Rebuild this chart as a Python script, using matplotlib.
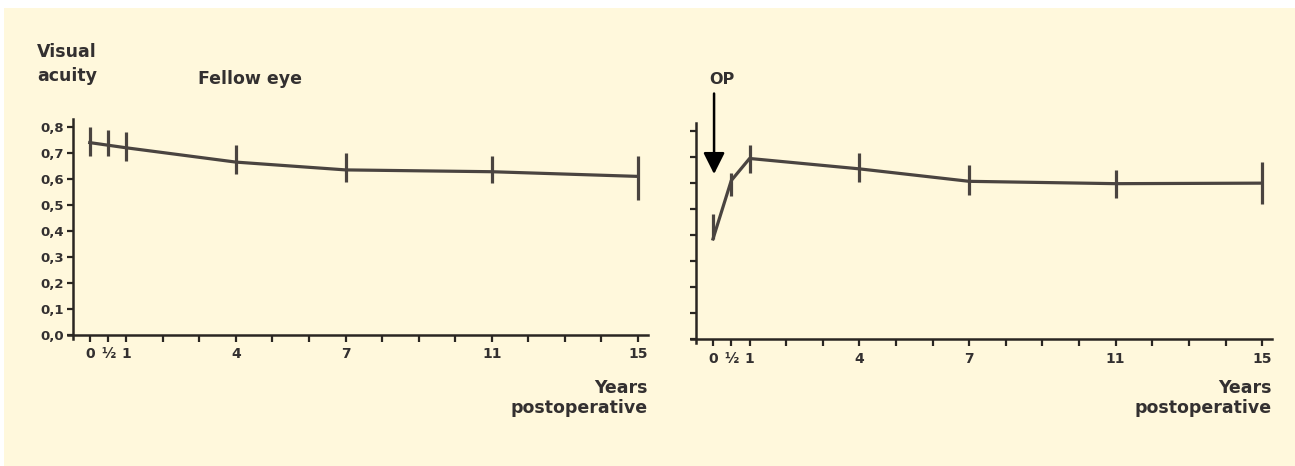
import numpy as np
from matplotlib import pyplot as plt
from matplotlib.patches import Rectangle

# years after surgery
JAHRE = [0, 0.5, 1, 4, 7, 11, 15]
TICKS_X = [0, 0.5, 1, 2, 3, 4, 5, 6, 7, 8, 9, 10, 11, 12, 13, 14, 15]
LABELS_X = ["0", "½", "1", "", "", "4", "", "", "7", "", "", "", "11", "", "", "", "15"]
TICKS_Y = [0.0, 0.1, 0.2, 0.3, 0.4, 0.5, 0.6, 0.7, 0.8]
LABELS_Y = ["0,0", "0,1", "0,2", "0,3", "0,4", "0,5", "0,6", "0,7", "0,8"]

# fellow eye: mean, lower and upper end of the bar
partner_mittel = [0.74, 0.73, 0.72, 0.665, 0.635, 0.628, 0.61]
partner_unten = [0.69, 0.69, 0.67, 0.62, 0.59, 0.585, 0.52]
partner_oben = [0.80, 0.79, 0.78, 0.73, 0.70, 0.69, 0.69]

# operated eye
op_mittel = [0.385, 0.61, 0.695, 0.655, 0.607, 0.598, 0.60]
op_unten = [0.385, 0.55, 0.64, 0.605, 0.556, 0.544, 0.52]
op_oben = [0.48, 0.64, 0.745, 0.715, 0.668, 0.651, 0.68]

CREME = "#fff8dc"
LINIE = "#4a4440"
SCHWARZ = "#2a2622"
TEXT = "#333030"
W, H = 1295, 466


def achse_einrichten(ax, mit_labels):
    ax.set_facecolor("none")
    ax.set_xlim(-0.6, 15.27)
    ax.set_ylim(-0.015, 0.83)
    for s in ["top", "right"]:
        ax.spines[s].set_visible(False)
    ax.spines["left"].set_position(("data", -0.47))
    ax.spines["bottom"].set_position(("data", 0))
    for s in ["left", "bottom"]:
        ax.spines[s].set_linewidth(1.8)
        ax.spines[s].set_color(SCHWARZ)
    ax.set_xticks(TICKS_X)
    ax.set_xticklabels(LABELS_X, fontsize=10, fontweight="bold", color=TEXT)
    ax.set_yticks(TICKS_Y)
    if mit_labels:
        ax.set_yticklabels(LABELS_Y, fontsize=9.5, fontweight="bold", color=TEXT)
    else:
        ax.set_yticklabels([])
    ax.tick_params(axis="x", length=5, width=1.6, color=SCHWARZ, pad=4)
    ax.tick_params(axis="y", length=4, width=1.6, color=SCHWARZ, pad=2)


def kurve(ax, mittel, unten, oben):
    m = np.array(mittel)
    fehler = [m - np.array(unten), np.array(oben) - m]
    ax.errorbar(JAHRE, mittel, yerr=fehler, color=LINIE, lw=2.3,
                elinewidth=2.3, capsize=0, clip_on=False)


fig = plt.figure(figsize=(W/100, H/100), dpi=100)
fig.patch.set_facecolor("white")
fig.patches.append(Rectangle((4/W, 0), 1, 1 - 8/H, transform=fig.transFigure,
                             facecolor=CREME, edgecolor="none", zorder=-10))

ax1 = fig.add_axes([67.8/W, 127.1/H, 580/W, 219.7/H])
ax2 = fig.add_axes([691/W, 123.1/H, 581/W, 219.5/H])
achse_einrichten(ax1, True)
achse_einrichten(ax2, False)

kurve(ax1, partner_mittel, partner_unten, partner_oben)
kurve(ax2, op_mittel, op_unten, op_oben)

# texts
schrift = dict(fontsize=12.5, fontweight="bold", color=TEXT)
fig.text(37/W, 1 - 43/H, "Visual\nacuity", ha="left", va="top", linespacing=1.45, **schrift)
fig.text(198/W, 1 - 84/H, "Fellow eye", ha="left", va="baseline", **schrift)
for rechts in [648, 1272]:
    fig.text(rechts/W, 1 - 393/H, "Years", ha="right", va="baseline", **schrift)
    fig.text(rechts/W, 1 - 413/H, "postoperative", ha="right", va="baseline", **schrift)

fig.text(722/W, 1 - 84/H, "OP", ha="center", va="baseline", fontsize=11.5,
         fontweight="bold", color=TEXT)
ax2.annotate("", xy=(0.03, 0.635), xytext=(0.03, 0.945), annotation_clip=False,
             arrowprops=dict(arrowstyle="-|>,head_length=1.0,head_width=0.5",
                             mutation_scale=13, color="black", lw=1.8,
                             shrinkA=0, shrinkB=0))

fig.savefig("out.png", dpi=100, facecolor=fig.get_facecolor())
